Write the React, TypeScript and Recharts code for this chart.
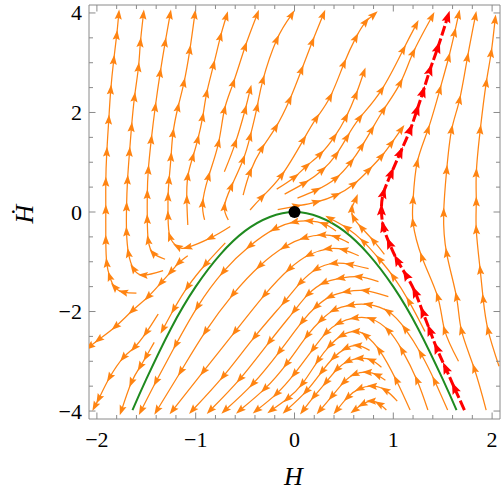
import React from 'react';
import { ComposedChart, Line, Scatter, XAxis, YAxis, ReferenceArea } from 'recharts';

type P = [number, number];

// ---------- axis ticks ----------
const xTickValues = [-2, -1.8, -1.6, -1.4, -1.2, -1, -0.8, -0.6, -0.4, -0.2, 0, 0.2, 0.4, 0.6, 0.8, 1, 1.2, 1.4, 1.6, 1.8, 2];
const xTickLabels = [-2, -1, 0, 1, 2];
const yTickValues = [-4, -3.5, -3, -2.5, -2, -1.5, -1, -0.5, 0, 0.5, 1, 1.5, 2, 2.5, 3, 3.5, 4];
const yTickLabels = [-4, -2, 0, 2, 4];
const xAxisTitle = 'H';
const yAxisTitle = 'Ḣ';

// ---------- fixed point ----------
const fixedPoint = [{ x: 0, y: 0 }];

// ---------- special curves ----------
const greenCurve: P[] = [[-1.64, -3.98], [-1.5, -3.36], [-1.25, -2.34], [-1.0, -1.5], [-0.75, -0.85], [-0.5, -0.38], [-0.25, -0.1], [0, 0], [0.25, -0.1], [0.5, -0.38], [0.75, -0.85], [1.0, -1.5], [1.25, -2.34], [1.5, -3.36], [1.64, -3.98]];
const redSeparatrix: P[] = [[1.72, -3.98], [1.62, -3.54], [1.53, -3.14], [1.44, -2.74], [1.37, -2.38], [1.30, -2.02], [1.22, -1.61], [1.13, -1.27], [1.04, -0.97], [0.96, -0.63], [0.90, -0.30], [0.88, 0.04], [0.90, 0.38], [0.98, 0.78], [1.07, 1.19], [1.17, 1.65], [1.24, 2.05], [1.30, 2.41], [1.37, 2.85], [1.45, 3.30], [1.55, 3.92]];

// ---------- stream lines, upper-left family ----------
const streamAlpha: P[] = [[-1.60, -1.63], [-1.73, -1.61], [-1.82, -1.51], [-1.87, -1.30], [-1.90, -1.03], [-1.91, -0.57], [-1.91, 0.04], [-1.91, 0.60], [-1.90, 1.20], [-1.88, 1.85], [-1.86, 2.45], [-1.83, 3.05], [-1.80, 3.55], [-1.78, 3.96]];
const streamBeta: P[] = [[-1.33, -1.18], [-1.53, -1.27], [-1.63, -1.14], [-1.68, -0.83], [-1.70, -0.40], [-1.70, 0.10], [-1.69, 0.64], [-1.67, 1.20], [-1.65, 1.70], [-1.62, 2.30], [-1.58, 2.90], [-1.56, 3.40], [-1.53, 3.96]];
const streamGamma: P[] = [[-1.31, -0.95], [-1.43, -0.83], [-1.48, -0.57], [-1.49, -0.15], [-1.49, 0.35], [-1.48, 0.84], [-1.45, 1.45], [-1.41, 2.10], [-1.36, 2.79], [-1.31, 3.40], [-1.26, 3.96]];
const streamDelta: P[] = [[-0.65, -0.29], [-0.85, -0.52], [-1.08, -0.71], [-1.18, -0.70], [-1.26, -0.50], [-1.28, -0.08], [-1.28, 0.30], [-1.27, 0.64], [-1.25, 1.10], [-1.23, 1.58], [-1.18, 2.10], [-1.12, 2.59], [-1.06, 3.25], [-1.01, 3.96]];
const streamEps: P[] = [[-1.08, -0.26], [-1.09, 0.24], [-1.08, 0.71], [-1.03, 1.10], [-0.98, 1.45], [-0.93, 1.90], [-0.89, 2.38], [-0.82, 2.95], [-0.75, 3.52], [-0.69, 3.93]];
const streamZeta: P[] = [[-0.91, -0.16], [-0.93, 0.17], [-0.87, 0.71], [-0.77, 1.38], [-0.71, 2.05], [-0.62, 2.59], [-0.50, 3.32], [-0.38, 3.96]];
const streamEta: P[] = [[-0.71, 0.81], [-0.60, 1.38], [-0.50, 2.05], [-0.45, 2.45]];
const streamTheta: P[] = [[-0.67, -0.16], [-0.71, 0.10], [-0.64, 0.51], [-0.52, 1.05], [-0.45, 1.51], [-0.38, 2.10], [-0.32, 2.65], [-0.18, 3.46], [-0.03, 3.96]];
const streamIota: P[] = [[-0.52, 0.34], [-0.45, 0.80], [-0.33, 1.28], [-0.19, 1.70], [-0.05, 2.25], [0.07, 2.85], [0.18, 3.42], [0.29, 3.96]];
const streamKappa: P[] = [[-0.45, 0.04], [-0.33, 0.30], [-0.13, 0.74], [0.09, 1.45], [0.22, 1.88], [0.36, 2.31], [0.50, 2.98], [0.62, 3.50], [0.72, 3.82], [0.80, 3.96]];

// ---------- upper-right fan ----------
const fanA: P[] = [[-0.18, 0.46], [0.0, 0.70], [0.12, 0.92], [0.26, 1.16], [0.40, 1.50], [0.52, 1.90], [0.62, 2.35], [0.70, 2.80]];
const fanB: P[] = [[-0.10, 0.36], [0.10, 0.58], [0.28, 0.84], [0.42, 1.15], [0.53, 1.50], [0.66, 1.89], [0.88, 2.45], [1.10, 3.26], [1.23, 3.76]];
const fanC: P[] = [[0.03, 0.28], [0.22, 0.44], [0.42, 0.68], [0.57, 1.00], [0.68, 1.32], [0.78, 1.65], [0.90, 2.05], [1.07, 2.59], [1.20, 3.20], [1.39, 3.92]];
const fanD: P[] = [[-0.17, 0.05], [0.02, 0.12], [0.22, 0.20], [0.42, 0.34], [0.60, 0.56], [0.75, 0.84], [0.88, 1.12], [0.98, 1.38], [1.08, 1.66]];

// ---------- between green and red ----------
const innerHyp: P[] = [[0.91, -0.85], [0.80, -0.58], [0.68, -0.32], [0.60, -0.12], [0.58, 0.06], [0.62, 0.26]];
const hugGreen: P[] = [[1.32, -2.40], [1.16, -1.80], [1.00, -1.30], [0.86, -0.95], [0.70, -0.60], [0.53, -0.32], [0.36, -0.13]];

// ---------- right of red ----------
const rightA: P[] = [[1.66, -3.00], [1.52, -2.38], [1.45, -1.71], [1.29, -0.91], [1.20, -0.22], [1.20, 0.24], [1.24, 0.98], [1.35, 1.65], [1.47, 2.45], [1.56, 3.10], [1.62, 3.60], [1.66, 3.96]];
const rightB: P[] = [[1.94, -3.98], [1.82, -3.15], [1.69, -2.38], [1.64, -1.71], [1.54, -0.83], [1.51, -0.02], [1.54, 0.84], [1.59, 1.65], [1.67, 2.25], [1.75, 3.10], [1.83, 3.93]];
const rightC: P[] = [[2.07, -3.10], [1.96, -2.38], [1.91, -1.75], [1.88, -1.17], [1.84, -0.36], [1.84, 0.20], [1.84, 0.78], [1.88, 1.65], [1.94, 2.59], [1.99, 3.19], [2.03, 3.86]];

// ---------- arches under the parabola ----------
const arch1: P[] = [[0.42, -0.38], [0.30, -0.24], [0.15, -0.18], [0.0, -0.20], [-0.2, -0.34], [-0.45, -0.68], [-0.72, -1.20], [-0.98, -1.90], [-1.20, -2.66], [-1.40, -3.40], [-1.55, -3.98]];
const arch2: P[] = [[0.55, -0.62], [0.42, -0.50], [0.28, -0.46], [0.10, -0.52], [-0.10, -0.70], [-0.35, -1.08], [-0.62, -1.65], [-0.90, -2.40], [-1.15, -3.20], [-1.39, -3.98]];
const arch3: P[] = [[0.65, -0.88], [0.50, -0.76], [0.34, -0.74], [0.15, -0.86], [-0.05, -1.14], [-0.30, -1.66], [-0.60, -2.40], [-0.92, -3.20], [-1.23, -3.98]];
const arch4: P[] = [[0.75, -1.14], [0.56, -1.05], [0.40, -1.03], [0.22, -1.15], [0.06, -1.42], [-0.10, -1.80], [-0.40, -2.50], [-0.72, -3.30], [-1.03, -3.98]];
const arch5: P[] = [[0.85, -1.40], [0.65, -1.30], [0.47, -1.33], [0.30, -1.42], [0.14, -1.65], [0.0, -1.98], [-0.25, -2.60], [-0.55, -3.35], [-0.85, -3.98]];
const arch6: P[] = [[0.95, -1.70], [0.72, -1.58], [0.53, -1.60], [0.36, -1.70], [0.22, -1.90], [0.08, -2.20], [-0.15, -2.80], [-0.42, -3.45], [-0.70, -3.98]];
const arch7: P[] = [[1.55, -3.98], [1.42, -3.40], [1.28, -2.85], [1.12, -2.35], [0.95, -2.00], [0.75, -1.86], [0.57, -1.87], [0.40, -1.97], [0.27, -2.17], [0.13, -2.48], [-0.08, -3.05], [-0.30, -3.55], [-0.55, -3.98]];
const arch8: P[] = [[1.35, -3.98], [1.24, -3.38], [1.09, -2.78], [0.95, -2.38], [0.78, -2.15], [0.61, -2.13], [0.45, -2.23], [0.32, -2.43], [0.19, -2.75], [0.0, -3.25], [-0.18, -3.65], [-0.38, -3.98]];
const arch9: P[] = [[1.17, -3.98], [1.03, -3.38], [0.86, -2.78], [0.72, -2.48], [0.62, -2.40], [0.48, -2.48], [0.36, -2.68], [0.24, -2.98], [0.08, -3.45], [-0.07, -3.75], [-0.23, -3.98]];
const arch10: P[] = [[0.76, -2.78], [0.64, -2.68], [0.52, -2.74], [0.40, -2.92], [0.28, -3.20], [0.12, -3.60], [-0.08, -3.98]];
const arch11: P[] = [[0.88, -3.12], [0.78, -2.98], [0.66, -2.94], [0.54, -3.00], [0.43, -3.16], [0.32, -3.42], [0.20, -3.70], [0.09, -3.98]];
const arch12: P[] = [[0.92, -3.38], [0.84, -3.28], [0.74, -3.22], [0.61, -3.26], [0.50, -3.42], [0.38, -3.70], [0.26, -3.98]];
const arch13: P[] = [[1.04, -3.80], [0.92, -3.58], [0.79, -3.50], [0.66, -3.55], [0.54, -3.72], [0.43, -3.98]];
const arch14: P[] = [[0.93, -3.98], [0.86, -3.86], [0.78, -3.80], [0.69, -3.86], [0.61, -3.98]];

// ---------- left of the parabola ----------
const leftG0: P[] = [[-0.70, -0.62], [-0.90, -1.05], [-1.08, -1.50], [-1.22, -1.95], [-1.33, -2.35]];
const leftG1: P[] = [[-1.08, -0.88], [-1.17, -1.02], [-1.25, -1.20], [-1.35, -1.42], [-1.48, -1.70], [-1.64, -1.98], [-1.81, -2.30], [-1.98, -2.56], [-2.07, -2.70]];
const leftG2: P[] = [[-1.38, -2.05], [-1.50, -2.42], [-1.62, -2.72], [-1.73, -2.92], [-1.87, -3.32], [-1.98, -3.75], [-2.02, -3.90]];
const leftG3: P[] = [[-1.42, -2.62], [-1.50, -2.90], [-1.56, -3.10], [-1.65, -3.42], [-1.75, -3.98]];

const orangeStreams: P[][] = [
  streamAlpha, streamBeta, streamGamma, streamDelta, streamEps, streamZeta, streamEta, streamTheta, streamIota, streamKappa,
  fanA, fanB, fanC, fanD, innerHyp, hugGreen, rightA, rightB, rightC,
  arch1, arch2, arch3, arch4, arch5, arch6, arch7, arch8, arch9, arch10, arch11, arch12, arch13, arch14,
  leftG0, leftG1, leftG2, leftG3,
];

// ---------- layout ----------
const W = 501;
const H = 491;
const MARGIN = { top: 5, right: 1, left: 0, bottom: 0 };
const Y_AXIS_W = 89;
const X_AXIS_H = 72;
const PLOT_W = W - MARGIN.right - MARGIN.left - Y_AXIS_W;
const PLOT_H = H - MARGIN.top - MARGIN.bottom - X_AXIS_H;
const X_DOMAIN: [number, number] = [-2.08, 2.08];
const Y_DOMAIN: [number, number] = [-4.16, 4.16];
const KX = PLOT_W / (X_DOMAIN[1] - X_DOMAIN[0]);
const KY = PLOT_H / (Y_DOMAIN[1] - Y_DOMAIN[0]);

const ORANGE = '#ff8412';
const RED = '#ff0000';
const GREEN = '#1f8a1f';
const FRAME = '#8a8a8a';
const FONT = '"Liberation Serif", "Times New Roman", Times, serif';

const rows = (s: P[]) => s.map(([x, y]) => ({ x, y }));

const isLabel = (list: number[], v: number) => list.some((l) => Math.abs(l - v) < 1e-6);
const fmt = (v: number) => (v < 0 ? '\u2212' + String(Math.abs(v)) : String(v));

function arrowDot(pts: P[], color: string, len: number, half: number) {
  return (props: any) => {
    const { cx, cy, index } = props;
    const key = `arrow-${index}`;
    if (index === 0 || cx == null || cy == null) return <g key={key} />;
    const prev = pts[index - 1];
    const next = pts[Math.min(index + 1, pts.length - 1)];
    const dx = (next[0] - prev[0]) * KX;
    const dy = -(next[1] - prev[1]) * KY;
    const d = Math.hypot(dx, dy) || 1;
    const ux = dx / d;
    const uy = dy / d;
    const tx = cx + ux * len * 0.55;
    const ty = cy + uy * len * 0.55;
    const bx = cx - ux * len * 0.45;
    const by = cy - uy * len * 0.45;
    const nx = cx - ux * len * 0.28;
    const ny = cy - uy * len * 0.28;
    const px = -uy * half;
    const py = ux * half;
    return (
      <polygon
        key={key}
        points={`${tx},${ty} ${bx + px},${by + py} ${nx},${ny} ${bx - px},${by - py}`}
        fill={color}
        stroke="none"
      />
    );
  };
}

const XTick = (p: any) => {
  const { x, y, payload } = p;
  const v = payload.value as number;
  const major = isLabel(xTickLabels, v);
  const L = major ? 6.5 : 4;
  return (
    <g>
      <line x1={x} y1={y} x2={x} y2={y - L} stroke={FRAME} strokeWidth={1} />
      <line x1={x} y1={y - PLOT_H} x2={x} y2={y - PLOT_H + L} stroke={FRAME} strokeWidth={1} />
      {major && (
        <text x={x} y={y + 28} textAnchor="middle" fontFamily={FONT} fontSize={22} fill="#000">
          {fmt(v)}
        </text>
      )}
    </g>
  );
};

const YTick = (p: any) => {
  const { x, y, payload } = p;
  const v = payload.value as number;
  const major = isLabel(yTickLabels, v);
  const L = major ? 6.5 : 4;
  return (
    <g>
      <line x1={x} y1={y} x2={x + L} y2={y} stroke={FRAME} strokeWidth={1} />
      <line x1={x + PLOT_W} y1={y} x2={x + PLOT_W - L} y2={y} stroke={FRAME} strokeWidth={1} />
      {major && (
        <text x={x - 7} y={y + 7.5} textAnchor="end" fontFamily={FONT} fontSize={22} fill="#000">
          {fmt(v)}
        </text>
      )}
    </g>
  );
};

const XLabel = (props: any) => {
  const vb = props.viewBox || { x: Y_AXIS_W, y: MARGIN.top + PLOT_H, width: PLOT_W, height: X_AXIS_H };
  return (
    <text x={vb.x + vb.width / 2 - 1} y={vb.y + 66} textAnchor="middle" fontFamily={FONT} fontStyle="italic" fontSize={26} fill="#000">
      {xAxisTitle}
    </text>
  );
};

const YLabel = (props: any) => {
  const vb = props.viewBox || { x: 0, y: MARGIN.top, width: Y_AXIS_W, height: PLOT_H };
  const cx = vb.x + 33;
  const cy = vb.y + vb.height / 2 + 2;
  return (
    <text x={0} y={0} transform={`translate(${cx},${cy}) rotate(-90)`} textAnchor="middle" fontFamily={FONT} fontStyle="italic" fontSize={26} fill="#000">
      {yAxisTitle}
    </text>
  );
};

const DotShape = (p: any) => <circle cx={p.cx} cy={p.cy} r={6} fill="#000" />;

export default function App() {
  return (
    <div style={{ position: 'absolute', left: 0, top: 0, width: W, height: H, background: '#fff' }}>
      <ComposedChart width={W} height={H} margin={MARGIN}>
        <XAxis
          type="number"
          dataKey="x"
          domain={X_DOMAIN}
          allowDataOverflow
          ticks={xTickValues}
          interval={0}
          height={X_AXIS_H}
          tickSize={0}
          tickMargin={0}
          tickLine={false}
          axisLine={false}
          tick={XTick}
          label={XLabel}
        />
        <YAxis
          type="number"
          dataKey="y"
          domain={Y_DOMAIN}
          allowDataOverflow
          ticks={yTickValues}
          interval={0}
          width={Y_AXIS_W}
          tickSize={0}
          tickMargin={0}
          tickLine={false}
          axisLine={false}
          tick={YTick}
          label={YLabel}
        />
        {orangeStreams.map((s, i) => (
          <Line
            key={`o${i}`}
            data={rows(s)}
            dataKey="y"
            type="natural"
            stroke={ORANGE}
            strokeWidth={1.25}
            dot={arrowDot(s, ORANGE, 10, 3.6)}
            activeDot={false}
            isAnimationActive={false}
            legendType="none"
          />
        ))}
        <Line
          data={rows(greenCurve)}
          dataKey="y"
          type="natural"
          stroke={GREEN}
          strokeWidth={2}
          dot={false}
          activeDot={false}
          isAnimationActive={false}
          legendType="none"
        />
        <Line
          data={rows(redSeparatrix)}
          dataKey="y"
          type="natural"
          stroke={RED}
          strokeWidth={3}
          strokeDasharray="10 3"
          dot={arrowDot(redSeparatrix, RED, 12, 4.5)}
          activeDot={false}
          isAnimationActive={false}
          legendType="none"
        />
        <Scatter data={fixedPoint} dataKey="y" shape={DotShape} isAnimationActive={false} legendType="none" />
        <ReferenceArea x1={X_DOMAIN[0]} x2={X_DOMAIN[1]} y1={Y_DOMAIN[0]} y2={Y_DOMAIN[1]} fill="none" fillOpacity={0} stroke={FRAME} strokeWidth={1} ifOverflow="visible" />
      </ComposedChart>
    </div>
  );
}
